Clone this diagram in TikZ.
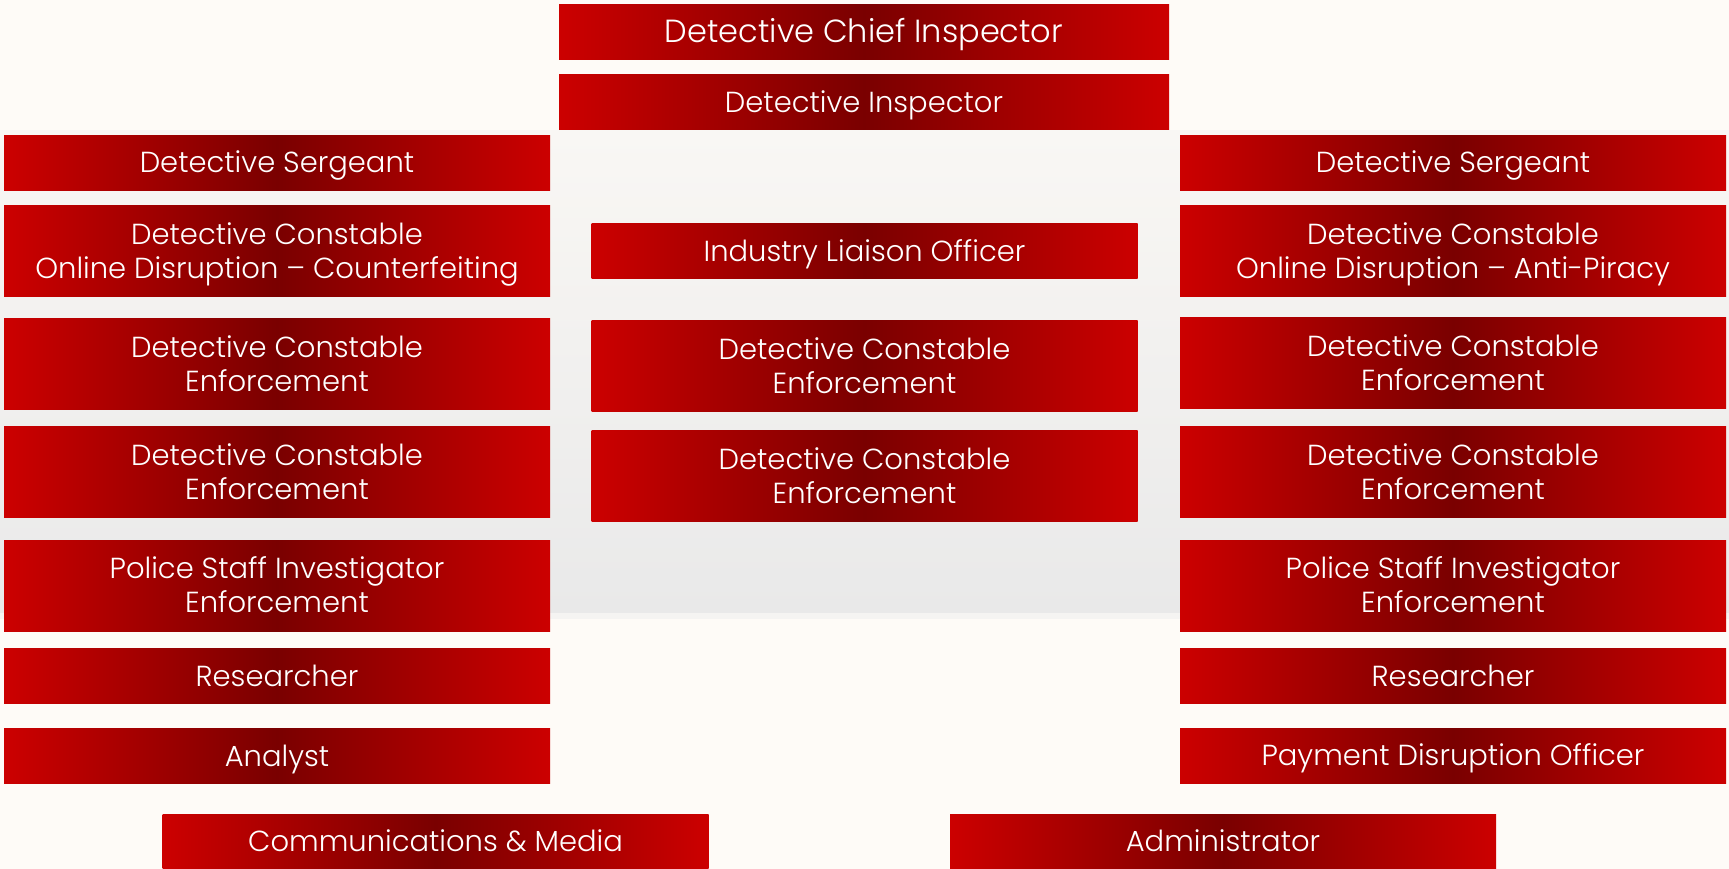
\documentclass[tikz,border=0pt]{standalone}
\usepackage{fontspec}
\setmainfont{Poppins}[UprightFont=* Light]
\usetikzlibrary{backgrounds}

\definecolor{postred}{HTML}{CC0000}
\definecolor{postdark}{HTML}{7A0000}
\definecolor{pagecream}{HTML}{FEFBF7}
\definecolor{paneltop}{HTML}{F9F7F4}
\definecolor{panelbot}{HTML}{E9E9E9}
\definecolor{panelband}{HTML}{F5F4F2}

\tikzset{
  post/.style={left color=postred, right color=postred, middle color=postdark,
    text=white, inner sep=0pt, minimum width=546pt, minimum height=55pt,
    align=center, font=\fontsize{29}{34}\selectfont,
    text height=20pt, text depth=0pt},
  post2/.style={post, minimum height=91pt, text height=54pt},
  headpost/.style={post, minimum width=610pt},
  chiefpost/.style={headpost, font=\fontsize{32}{34}\selectfont, text height=22pt}
}

\begin{document}
\begin{tikzpicture}[x=1pt,y=-1pt]
  \useasboundingbox (0,0) rectangle (1729,869);
  \fill[pagecream] (0,0) rectangle (1729,869);
  \shade[top color=paneltop, bottom color=panelbot] (0,131) rectangle (1729,613);
  \fill[panelband] (0,613) rectangle (1729,619);

  % command
  \node[chiefpost] (dci) at (864,32) {Detective Chief Inspector};
  \node[headpost] (di) at (864,102.5) {Detective Inspector};

  % left team
  \node[post] (lds) at (277,163) {Detective Sergeant};
  \node[post2] (ldco) at (277,251) {Detective Constable\\Online Disruption \textendash{} Counterfeiting};
  \node[post2] (ldce1) at (277,364) {Detective Constable\\Enforcement};
  \node[post2] (ldce2) at (277,472) {Detective Constable\\Enforcement};
  \node[post2] (lpsi) at (277,585.5) {Police Staff Investigator\\Enforcement};
  \node[post] (lres) at (277,676) {Researcher};
  \node[post] (lana) at (277,756) {Analyst};

  % middle team
  \node[post] (milo) at (864.5,251) {Industry Liaison Officer};
  \node[post2] (mdce1) at (864.5,366) {Detective Constable\\Enforcement};
  \node[post2] (mdce2) at (864.5,476) {Detective Constable\\Enforcement};

  % right team
  \node[post] (rds) at (1453,163) {Detective Sergeant};
  \node[post2] (rdco) at (1453,251) {Detective Constable\\Online Disruption \textendash{} Anti-Piracy};
  \node[post2] (rdce1) at (1453,363) {Detective Constable\\Enforcement};
  \node[post2] (rdce2) at (1453,472) {Detective Constable\\Enforcement};
  \node[post2] (rpsi) at (1453,585.5) {Police Staff Investigator\\Enforcement};
  \node[post] (rres) at (1453,676) {Researcher};
  \node[post] (rpdo) at (1453,755.5) {Payment Disruption Officer};

  % support
  \node[post] (comms) at (435.5,841.5) {Communications \& Media};
  \node[post] (admin) at (1223,841.5) {Administrator};
\end{tikzpicture}
\end{document}
